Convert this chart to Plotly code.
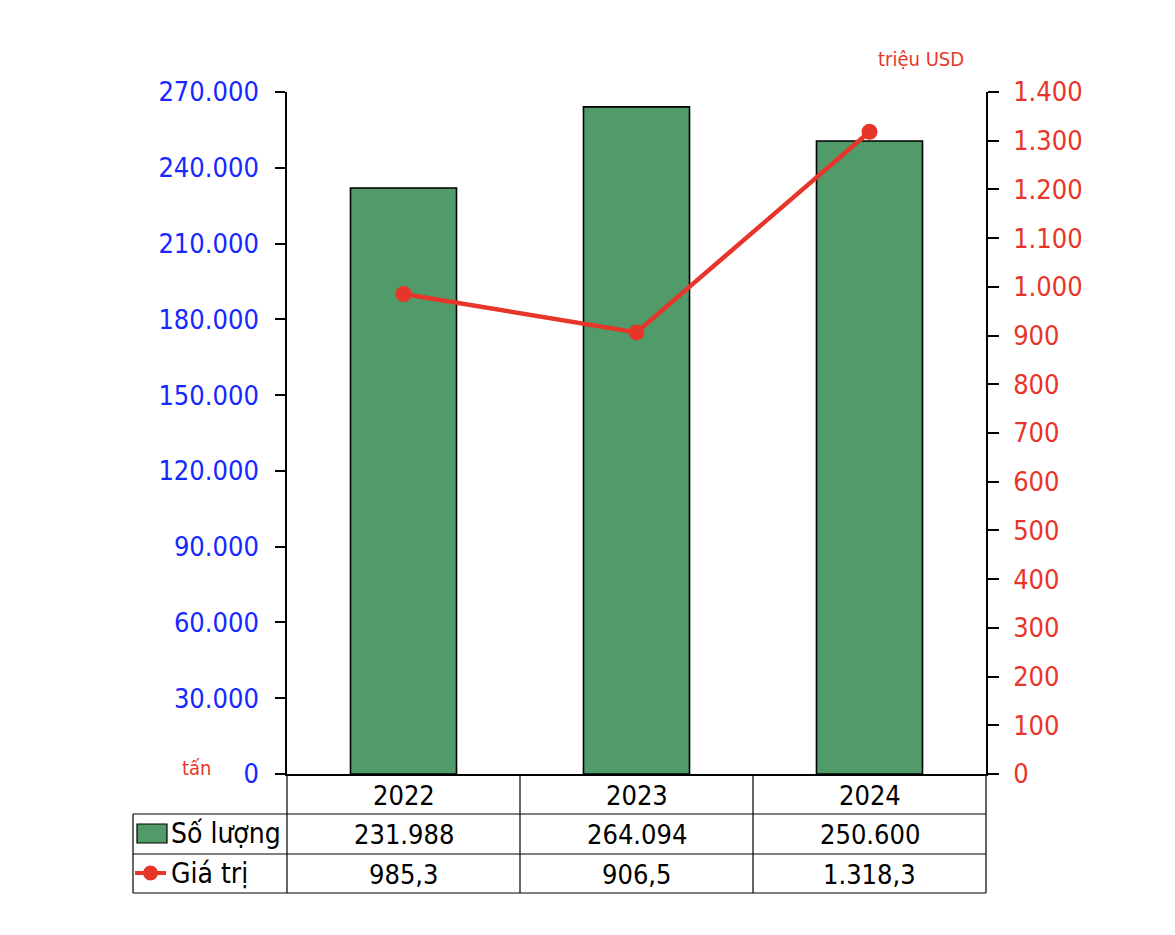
import plotly.graph_objects as go

years = ["2022", "2023", "2024"]
so_luong = [231988, 264094, 250600]
gia_tri = [985.3, 906.5, 1318.3]
so_luong_txt = ["231.988", "264.094", "250.600"]
gia_tri_txt = ["985,3", "906,5", "1.318,3"]
left_ticks = [0, 30000, 60000, 90000, 120000, 150000, 180000, 210000, 240000, 270000]
right_ticks = list(range(0, 1401, 100))

W, H = 1175, 935
FONT = "DejaVu Sans Condensed, Noto Sans, sans-serif"
GREEN = "#519a6a"
RED = "#e8352a"
BLUE = "#1428ff"

def px(x):
    return x / W

def py(y):
    return 1 - y / H

fig = go.Figure()
fig.add_trace(go.Bar(x=years, y=so_luong, marker=dict(color=GREEN, line=dict(color="black", width=1.6)),
                     width=0.455, yaxis="y", showlegend=False))
fig.add_trace(go.Scatter(x=years, y=gia_tri, mode="lines+markers", yaxis="y2",
                         line=dict(color=RED, width=4.5), marker=dict(color=RED, size=16),
                         showlegend=False))

x0, x1 = px(287), px(986)
yb, yt = py(774), py(92)

fig.update_layout(
    width=W, height=H, margin=dict(l=0, r=0, t=0, b=0, pad=0, autoexpand=False),
    paper_bgcolor="white", plot_bgcolor="white",
    separators=",.",
    font=dict(family=FONT, size=26, color="black"),
    xaxis=dict(domain=[x0, x1], range=[-0.5, 2.5], type="category", showticklabels=False,
               showline=True, linecolor="black", linewidth=1.5, ticks="", showgrid=False, zeroline=False,
               automargin=False),
    yaxis=dict(domain=[yb, yt], range=[0, 270000], tickvals=left_ticks, tickformat=",d",
               showline=True, linecolor="black", linewidth=1.5, ticks="outside", ticklen=10,
               tickcolor="black", tickwidth=1.5, showgrid=False, zeroline=False, automargin=False,
               tickfont=dict(family=FONT, size=27, color=BLUE), ticklabelstandoff=11),
    yaxis2=dict(domain=[yb, yt], range=[0, 1400], tickvals=right_ticks, tickformat=",d",
                overlaying="y", side="right", anchor="x", automargin=False,
                showline=True, linecolor="black", linewidth=1.5, ticks="outside", ticklen=11,
                tickcolor="black", tickwidth=1.5, showgrid=False, zeroline=False,
                tickfont=dict(family=FONT, size=27, color=RED), ticklabelstandoff=9),
)

shapes = []
line = dict(color="black", width=1.2)
for yy in [814, 854, 893]:
    shapes.append(dict(type="line", xref="paper", yref="paper", x0=px(133), x1=px(986), y0=py(yy), y1=py(yy), line=line))
for xx in [287, 520, 753, 986]:
    shapes.append(dict(type="line", xref="paper", yref="paper", x0=px(xx), x1=px(xx), y0=py(774), y1=py(893), line=line))
shapes.append(dict(type="line", xref="paper", yref="paper", x0=px(133), x1=px(133), y0=py(814), y1=py(893), line=line))
shapes.append(dict(type="rect", xref="paper", yref="paper", x0=px(137), x1=px(167), y0=py(843), y1=py(824),
                   fillcolor=GREEN, line=dict(color="black", width=1.2)))
shapes.append(dict(type="line", xref="paper", yref="paper", x0=px(135), x1=px(166), y0=py(873), y1=py(873),
                   line=dict(color=RED, width=4)))
shapes.append(dict(type="circle", xref="paper", yref="paper", x0=px(143), x1=px(158), y0=py(880.5), y1=py(865.5),
                   fillcolor=RED, line=dict(color=RED, width=0)))
fig.update_layout(shapes=shapes)

ann = []
cell = dict(showarrow=False, xanchor="center", yanchor="middle", font=dict(family=FONT, size=27, color="black"))
for i, yr in enumerate(years):
    ann.append(dict(x=i, xref="x", y=py(795), yref="paper", text=yr, **cell))
    ann.append(dict(x=i, xref="x", y=py(834), yref="paper", text=so_luong_txt[i], **cell))
    ann.append(dict(x=i, xref="x", y=py(874), yref="paper", text=gia_tri_txt[i], **cell))
ann.append(dict(x=px(169), y=py(833), xref="paper", yref="paper", text="Số lượng", showarrow=False,
                xanchor="left", yanchor="middle", font=dict(family=FONT, size=28, color="black")))
ann.append(dict(x=px(169), y=py(873), xref="paper", yref="paper", text="Giá trị", showarrow=False,
                xanchor="left", yanchor="middle", font=dict(family=FONT, size=28, color="black")))
ann.append(dict(x=px(196), y=py(768), xref="paper", yref="paper", text="tấn", showarrow=False,
                xanchor="center", yanchor="middle", font=dict(family=FONT, size=20, color=RED)))
ann.append(dict(x=px(921), y=py(59), xref="paper", yref="paper", text="triệu USD", showarrow=False,
                xanchor="center", yanchor="middle", font=dict(family=FONT, size=20, color=RED)))
fig.update_layout(annotations=ann)

fig.write_html("out.html")
